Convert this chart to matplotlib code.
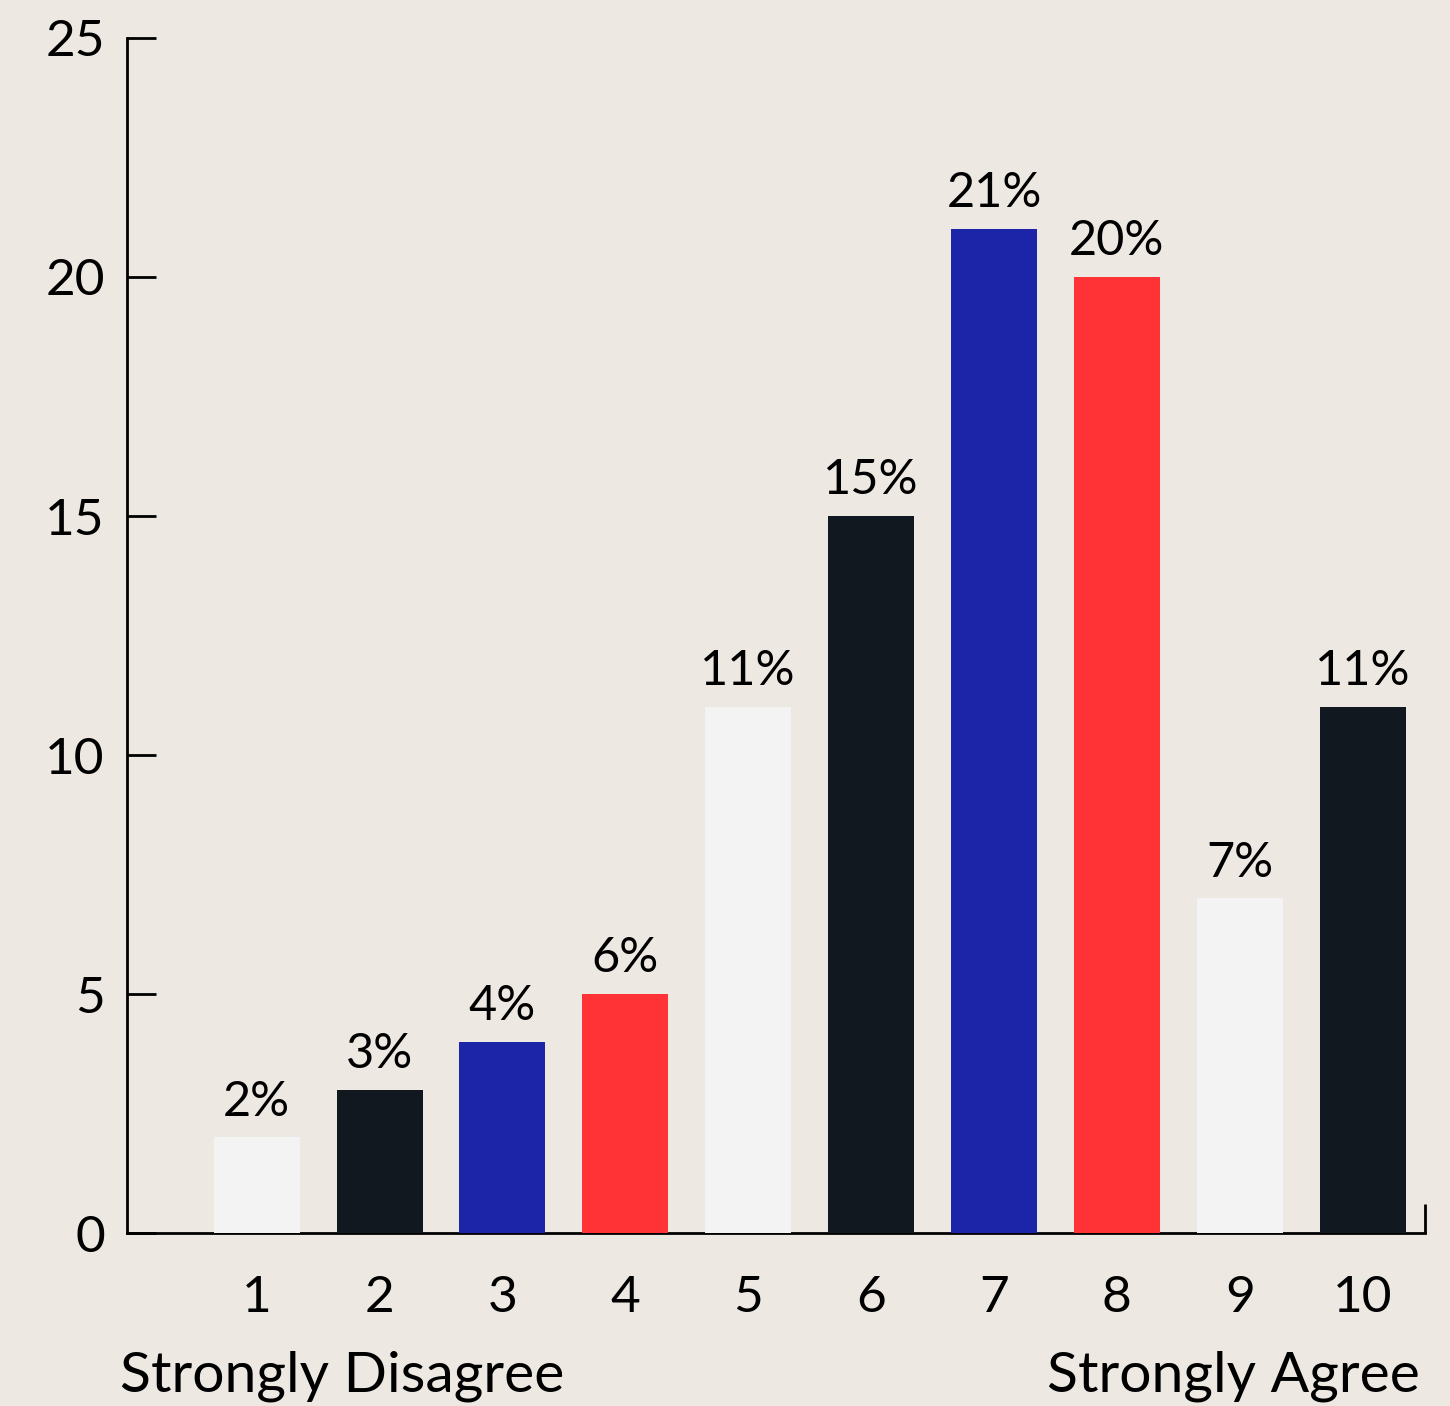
import matplotlib
matplotlib.use("Agg")
import matplotlib.pyplot as plt

categories = [1, 2, 3, 4, 5, 6, 7, 8, 9, 10]
values = [2, 3, 4, 5, 11, 15, 21, 20, 7, 11]
bar_labels = ["2%", "3%", "4%", "6%", "11%", "15%", "21%", "20%", "7%", "11%"]
yticks = [0, 5, 10, 15, 20, 25]
left_caption = "Strongly Disagree"
right_caption = "Strongly Agree"

LIGHT = "#F2F3F2"
DARK = "#111820"
BLUE = "#1C25A8"
RED = "#FF3335"
BG = "#EDE8E2"
bar_colors = [LIGHT, DARK, BLUE, RED, LIGHT, DARK, BLUE, RED, LIGHT, DARK]

plt.rcParams['font.family'] = ['Lato', 'DejaVu Sans']

fig = plt.figure(figsize=(14.5, 14.06), dpi=100, facecolor=BG)
ax = fig.add_axes([0.0876, 0.1230, 0.9828 - 0.0876, 0.9730 - 0.1230])
ax.set_facecolor(BG)

ax.bar(categories, values, width=0.7, color=bar_colors, zorder=3)
for x, v, lab in zip(categories, values, bar_labels):
    ax.annotate(lab, (x, v), xytext=(0, 10), textcoords="offset points",
                ha="center", va="bottom", fontsize=35, color="black", zorder=4)

ax.set_xlim(-0.055, 10.508)
ax.set_ylim(0, 25)
ax.set_yticks(yticks)
ax.set_yticklabels([str(t) for t in yticks], fontsize=37)
ax.set_xticks(categories + [10.508])
ax.set_xticklabels([str(c) for c in categories] + [""], fontsize=37)

for s in ["top", "right"]:
    ax.spines[s].set_visible(False)
for s in ["left", "bottom"]:
    ax.spines[s].set_linewidth(2)
    ax.spines[s].set_color("black")

ax.tick_params(axis="y", direction="in", length=21, width=2, pad=16)
ax.tick_params(axis="x", direction="in", length=21, width=2, pad=30)

fig.text(120 / 1450, 1 - 1392 / 1406, left_caption, ha="left", va="baseline", fontsize=41)
fig.text(1420 / 1450, 1 - 1392 / 1406, right_caption, ha="right", va="baseline", fontsize=41)

fig.savefig("out.png", dpi=100, facecolor=BG)
